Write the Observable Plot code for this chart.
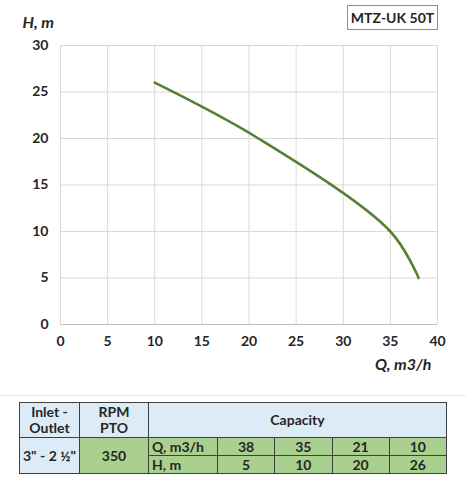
<!DOCTYPE html>
<html>
<head>
<meta charset="utf-8">
<script src="https://cdn.jsdelivr.net/npm/d3@7"></script>
<script src="https://cdn.jsdelivr.net/npm/@observablehq/plot@0.6"></script>
<style>
  body { margin: 0; background: #fff; font-family: Lato, "Open Sans", sans-serif; }
  #wrap { position: relative; width: 466px; height: 500px; }
  #model {
    position: absolute; left: 347px; top: 5px; width: 91px; height: 25px;
    border: 1px solid #70ad47; box-sizing: border-box; white-space: nowrap;
    font: bold 14px Lato, sans-serif; color: #262626;
    text-align: center; line-height: 23px;
  }
  #sep { position: absolute; left: 0; top: 395px; width: 466px; border-top: 1px solid #e6e6e6; }
  #tbl {
    position: absolute; left: 19px; top: 402px; width: 428px; table-layout: fixed;
    border-collapse: collapse; font: bold 14px Lato, sans-serif; color: #262626;
  }
  #tbl td { border: 1px solid #404040; padding: 0 3px; text-align: center; line-height: 16px; white-space: nowrap; overflow: hidden; }
  #tbl .blue { background: #ddebf7; }
  #tbl .green { background: #a9d08e; }
  #tbl .lft { text-align: left; }
</style>
</head>
<body>
<div id="wrap">
  <div id="chart"></div>
  <div id="model">MTZ-UK 50T</div>
  <div id="sep"></div>
  <table id="tbl">
    <colgroup>
      <col style="width:60px"><col style="width:69px"><col style="width:69px">
      <col><col><col><col>
    </colgroup>
  </table>
</div>
<script>
// curve points (and the table)
const flow = [10, 21, 35, 38]
const head = [26, 20, 10, 5]
const xTicks = [0, 5, 10, 15, 20, 25, 30, 35, 40]
const yTicks = [0, 5, 10, 15, 20, 25, 30]

// table rows
const inletOutlet = '3" - 2 ½"'
const rpm = 350
const tableQ = [38, 35, 21, 10]
const tableH = [5, 10, 20, 26]

const pts = flow.map((q, i) => ({ q, h: head[i] }))

const chart = Plot.plot({
  width: 466,
  height: 390,
  marginLeft: 60,
  marginRight: 29,
  marginTop: 45,
  marginBottom: 66,
  style: { fontFamily: 'Lato, sans-serif', fontSize: '14px', fontWeight: 'bold', color: '#262626' },
  x: { domain: [0, 40], ticks: xTicks, label: null },
  y: { domain: [0, 30], ticks: yTicks, label: null },
  marks: [
    Plot.gridX(xTicks, { stroke: '#d9d9d9', strokeOpacity: 1 }),
    Plot.gridY(yTicks, { stroke: '#d9d9d9', strokeOpacity: 1 }),
    Plot.ruleY([0], { stroke: '#bfbfbf' }),
    Plot.axisX({ ticks: xTicks, tickSize: 0, tickPadding: 12, fontSize: 14, label: null }),
    Plot.axisY({ ticks: yTicks, tickSize: 0, tickPadding: 12, fontSize: 14, label: null }),
    Plot.line(pts, { x: 'q', y: 'h', curve: 'catmull-rom', stroke: '#548235', strokeWidth: 2.6 }),
    Plot.text(['H, m'], { frameAnchor: 'top-left', dx: -38, dy: -29, textAnchor: 'start', fontSize: 16, fontStyle: 'italic', fontWeight: 'bold' }),
    Plot.text(['Q, m3/h'], { frameAnchor: 'bottom-right', dx: -6, dy: 45, textAnchor: 'end', fontSize: 16, fontStyle: 'italic', fontWeight: 'bold' })
  ]
})
d3.select('#chart').append(() => chart)

// table under the chart
const tbl = d3.select('#tbl')
const r1 = tbl.append('tr').style('height', '35px')
r1.append('td').attr('class', 'blue').html('Inlet -<br>Outlet')
r1.append('td').attr('class', 'blue').html('RPM<br>PTO')
r1.append('td').attr('class', 'blue').attr('colspan', 5).text('Capacity')

const r2 = tbl.append('tr').style('height', '18px')
r2.append('td').attr('class', 'blue').attr('rowspan', 2).text(inletOutlet)
r2.append('td').attr('class', 'green').attr('rowspan', 2).text(rpm)
r2.append('td').attr('class', 'green lft').text('Q, m3/h')
tableQ.forEach(v => r2.append('td').attr('class', 'green').text(v))

const r3 = tbl.append('tr').style('height', '18px')
r3.append('td').attr('class', 'green lft').text('H, m')
tableH.forEach(v => r3.append('td').attr('class', 'green').text(v))
</script>
</body>
</html>
